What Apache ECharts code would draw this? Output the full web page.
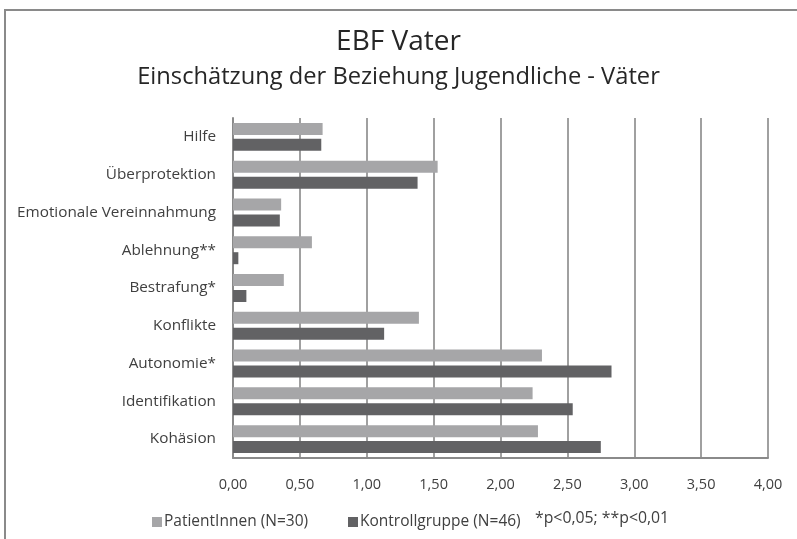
<!DOCTYPE html>
<html>
<head>
<meta charset="utf-8">
<script src="https://cdn.jsdelivr.net/npm/echarts@6/dist/echarts.min.js"></script>
<style>html,body{margin:0;padding:0;background:#fff;}#c{width:797px;height:539px;}</style>
</head>
<body>
<div id="c"></div>
<script>
const categories = ['Hilfe','Überprotektion','Emotionale Vereinnahmung','Ablehnung**','Bestrafung*','Konflikte','Autonomie*','Identifikation','Kohäsion'];
const patientValues = [0.67,1.53,0.36,0.59,0.38,1.39,2.31,2.24,2.28];
const controlValues = [0.66,1.38,0.35,0.04,0.10,1.13,2.83,2.54,2.75];
const seriesNames = ['PatientInnen (N=30)','Kontrollgruppe (N=46)'];
const xTicks = {min:0, max:4, interval:0.5};
const titleText = 'EBF Vater';
const subtitleText = 'Einschätzung der Beziehung Jugendliche - Väter';
const noteText = '*p<0,05; **p<0,01';

const FONT = 'Open Sans';
const legendText = {fontFamily:FONT,fontSize:15.5,color:'#404040',padding:[0,0,0,-3]};
const chart = echarts.init(document.getElementById('c'), null, {renderer:'canvas'});
chart.setOption({
  animation:false,
  backgroundColor:'#fff',
  textStyle:{fontFamily:FONT},
  title:[
    {text:titleText,left:'center',top:23,textStyle:{fontFamily:FONT,fontSize:28,fontWeight:'normal',color:'#262626'}},
    {text:subtitleText,left:'center',top:60,textStyle:{fontFamily:FONT,fontSize:23.7,fontWeight:'normal',color:'#262626'}}
  ],
  graphic:[
    {type:'rect',shape:{x:5,y:10,width:800,height:540},style:{fill:'none',stroke:'#8a8a8a',lineWidth:2},silent:true,z:-1},
    {type:'text',left:535,top:510,style:{text:noteText,font:'15.8px "'+FONT+'"',fill:'#404040'}}
  ],
  legend:[
    {data:[seriesNames[0]],left:147,top:509,itemWidth:10,itemHeight:10,icon:'rect',textStyle:legendText},
    {data:[seriesNames[1]],left:343,top:509,itemWidth:10,itemHeight:10,icon:'rect',textStyle:legendText}
  ],
  grid:{left:233,right:29,top:118,bottom:81,containLabel:false},
  xAxis:{
    type:'value',min:xTicks.min,max:xTicks.max,interval:xTicks.interval,
    axisLine:{show:true,lineStyle:{color:'#8a8a8a',width:2}},
    axisTick:{show:false},
    axisLabel:{margin:19,fontFamily:FONT,fontSize:14.5,color:'#404040',formatter:v=>v.toFixed(2).replace('.',',')},
    splitLine:{show:true,lineStyle:{color:'#a0a0a0',width:2}}
  },
  yAxis:{
    type:'category',data:categories,inverse:true,
    axisLine:{show:true,lineStyle:{color:'#8a8a8a',width:2}},
    axisTick:{show:false},
    axisLabel:{margin:17,fontFamily:FONT,fontSize:15.3,color:'#404040'}
  },
  series:[
    {name:seriesNames[0],type:'bar',data:patientValues,barWidth:12,barGap:'33%',itemStyle:{color:'#a6a6a8'}},
    {name:seriesNames[1],type:'bar',data:controlValues,barWidth:12,itemStyle:{color:'#626264'}}
  ]
});
</script>
</body>
</html>
